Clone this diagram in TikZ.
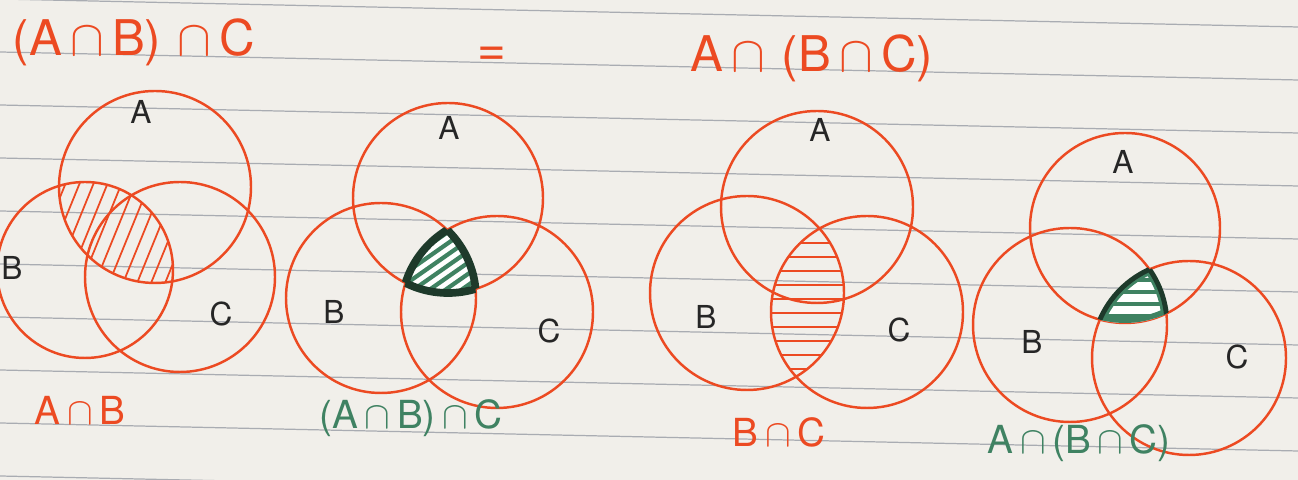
\documentclass[tikz,border=0pt]{standalone}
\usepackage{fontspec}
\setmainfont{TeX Gyre Heros}
\usepackage{amsmath}
\usepackage{amssymb}
\usepackage{tikz}
\usepackage{xcolor}

\definecolor{penred}{HTML}{EC4A22}
\definecolor{pengreen}{HTML}{3F8262}
\definecolor{darkgreen}{HTML}{1E3A2B}
\definecolor{paper}{HTML}{F1EFEA}
\definecolor{ruling}{HTML}{A9ACB2}
\definecolor{ink}{HTML}{262626}

\begin{document}
\begin{tikzpicture}[x=0.1mm,y=-0.1mm,
  setline/.style={penred,line width=0.7pt},
  setname/.style={ink,font=\fontsize{9}{9}\selectfont,inner sep=0pt},
  heading/.style={penred,font=\fontsize{14}{14}\selectfont,inner sep=0pt},
  caption/.style={font=\fontsize{11}{11}\selectfont,inner sep=0pt},
  hatchred/.style={penred,line width=0.5pt},
  hatchgreen/.style={pengreen,line width=1.2pt}]
% paper
\fill[paper] (0,0) rectangle (1298,480);
\useasboundingbox (0,0) rectangle (1298,480);
\foreach \y in {-1,52,...,476}
  \draw[ruling,line width=0.35pt] (0,\y) -- (1298,\y+28);

% headings
\node[heading] (lhs) at (134,42) {(A\,$\cap$\,B)\,\,$\cap$\,C};
\node[heading] (eq) at (492,56) {=};
\node[heading] (rhs) at (812,58) {A\,$\cap$\,\,(B\,$\cap$\,C)};

% first: A cap B
\draw[setline] (155,187) circle (96);
\draw[setline] (85,270) circle (88);
\draw[setline] (180,277) circle (95);
\begin{scope}
\clip (155,187) circle (96);
\clip (85,270) circle (88);
\foreach \k in {0,...,22}
  \draw[hatchred] (-60+14*\k,320) -- ++(110,-270);
\end{scope}
\node[setname] (a1) at (141,112) {A};
\node[setname] (b1) at (12,268) {B};
\node[setname] (c1) at (221,314) {C};
\node[caption,penred] (l1) at (80,410) {A\,$\cap$\,B};

% second: (A cap B) cap C
\draw[setline] (448,198) circle (95);
\draw[setline] (381,298) circle (95);
\draw[setline] (497,312) circle (96);
\begin{scope}
\clip (448,198) circle (95);
\clip (381,298) circle (95);
\clip (497,312) circle (96);
\fill[white] (380,200) rectangle (520,320);
\foreach \k in {0,...,20}
  \draw[hatchgreen] (260+16*\k,330) -- ++(180,-126);
\end{scope}
\begin{scope}
\clip (448,198) circle (95);
\clip (381,298) circle (95);
\draw[darkgreen,line width=2.2pt] (497,312) circle (96);
\end{scope}
\begin{scope}
\clip (448,198) circle (95);
\clip (497,312) circle (96);
\draw[darkgreen,line width=2.2pt] (381,298) circle (95);
\end{scope}
\begin{scope}
\clip (381,298) circle (95);
\clip (497,312) circle (96);
\draw[darkgreen,line width=2.2pt] (448,198) circle (95);
\end{scope}
\node[setname] (a2) at (449,128) {A};
\node[setname] (b2) at (334,312) {B};
\node[setname] (c2) at (549,331) {C};
\node[caption,pengreen] (l2) at (411,418) {(A\,$\cap$\,B)\,$\cap$\,C};

% third: B cap C
\draw[setline] (817,207) circle (96);
\draw[setline] (747,293) circle (97);
\draw[setline] (867,312) circle (96);
\begin{scope}
\clip (747,293) circle (97);
\clip (867,312) circle (96);
\foreach \y in {215,229,...,395}
  \draw[penred,line width=0.75pt] (760,\y) -- (860,\y);
\end{scope}
\node[setname] (a3) at (820,130) {A};
\node[setname] (b3) at (706,317) {B};
\node[setname] (c3) at (899,330) {C};
\node[caption,penred] (l3) at (779,432) {B\,$\cap$\,C};

% fourth: A cap (B cap C)
\draw[setline] (1125,228) circle (95);
\draw[setline] (1070,325) circle (97);
\draw[setline] (1189,358) circle (97);
\begin{scope}
\clip (1125,228) circle (95);
\clip (1070,325) circle (97);
\clip (1189,358) circle (97);
\fill[white] (1080,250) rectangle (1190,340);
\foreach \y in {280,292,...,330}
  \draw[pengreen,line width=1.4pt] (1080,\y) -- (1190,\y);
\draw[pengreen,line width=3pt] (1189,358) circle (97);
\draw[pengreen,line width=3pt] (1070,325) circle (97);
\draw[pengreen,line width=3pt] (1125,228) circle (95);
\end{scope}
\begin{scope}
\clip (1125,228) circle (95);
\clip (1070,325) circle (97);
\draw[darkgreen,line width=1.4pt] (1189,358) circle (97);
\end{scope}
\begin{scope}
\clip (1125,228) circle (95);
\clip (1189,358) circle (97);
\draw[darkgreen,line width=1.4pt] (1070,325) circle (97);
\end{scope}
\node[setname] (a4) at (1123,162) {A};
\node[setname] (b4) at (1032,342) {B};
\node[setname] (c4) at (1237,357) {C};
\node[caption,pengreen] (l4) at (1079,443) {A\,$\cap$\,(B\,$\cap$\,C)};
\end{tikzpicture}
\end{document}
